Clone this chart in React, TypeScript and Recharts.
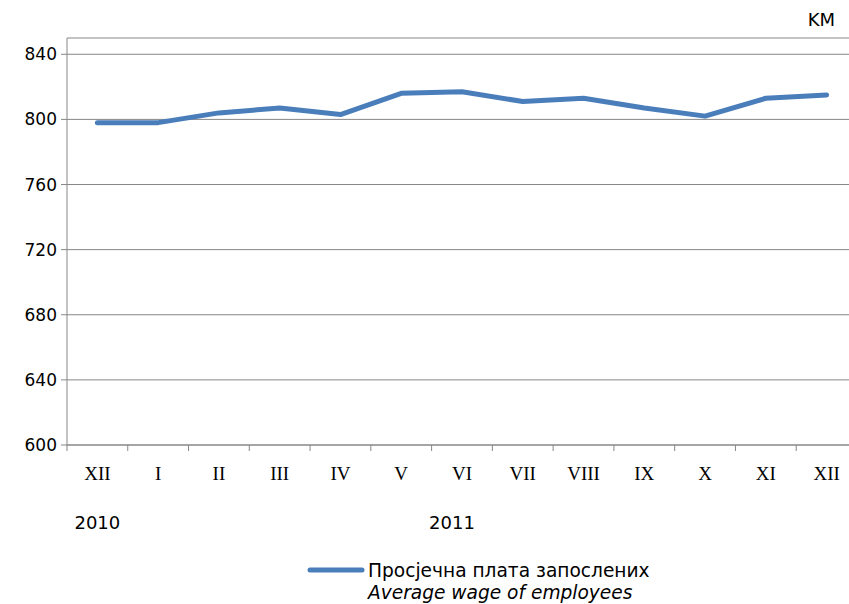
import { LineChart, Line, XAxis, YAxis, CartesianGrid } from "recharts"

const months = ["XII", "I", "II", "III", "IV", "V", "VI", "VII", "VIII", "IX", "X", "XI", "XII"]
const wages = [798, 798, 804, 807, 803, 816, 817, 811, 813, 807, 802, 813, 815]
const yearLabels: Record<number, string> = { 0: "2010", 6: "2011" }
const yTicks = [600, 640, 680, 720, 760, 800, 840]

const data = months.map((m, i) => ({ month: m, idx: i, wage: wages[i] }))

const SANS = "'DejaVu Sans', Verdana, sans-serif"
const GRID = "#878787"

function MonthTick(props: any) {
  const { x, y, payload, index } = props
  const half = 30.4
  const year = yearLabels[index]
  return (
    <g>
      <line x1={x - half} y1={y - 8} x2={x - half} y2={y - 2} stroke={GRID} />
      {index === months.length - 1 && <line x1={x + half} y1={y - 8} x2={x + half} y2={y - 2} stroke={GRID} />}
      <text x={x} y={y + 27} textAnchor="middle" fontSize={19} fontFamily="'Liberation Serif', serif" fill="#000">
        {months[payload.value]}
      </text>
      {year && (
        <text x={index === 6 ? x - 10 : x} y={y + 76} textAnchor="middle" fontSize={18} fontFamily={SANS} fill="#000">
          {year}
        </text>
      )}
    </g>
  )
}

export default function App() {
  return (
    <div style={{ position: "absolute", left: 0, top: 0, width: 849, height: 604, overflow: "hidden", background: "#fff" }}>
      <LineChart width={857} height={604} data={data} margin={{ top: 38, right: 0, bottom: 119, left: 7 }}>
        <CartesianGrid vertical={false} stroke={GRID} strokeWidth={1} />
        <XAxis
          dataKey="idx"
          type="category"
          scale="band"
          axisLine={{ stroke: GRID }}
          tickLine={false}
          tick={<MonthTick />}
          interval={0}
          height={40}
        />
        <YAxis
          domain={[600, 850]}
          ticks={yTicks}
          width={60}
          axisLine={{ stroke: GRID }}
          tickLine={{ stroke: GRID }}
          tickSize={6}
          tick={{ fontSize: 17, fontFamily: SANS, fill: "#000" }}
          tickMargin={4}
        />
        <Line
          type="linear"
          dataKey="wage"
          stroke="#4A7EBB"
          strokeWidth={5}
          strokeLinecap="round"
          strokeLinejoin="round"
          dot={false}
          isAnimationActive={false}
        />
        <text x={835} y={26} textAnchor="end" fontSize={18} fontFamily={SANS} fill="#000">
          KM
        </text>
        <line x1={310} y1={570} x2={362} y2={570} stroke="#4A7EBB" strokeWidth={5} strokeLinecap="round" />
        <text x={368} y={577} fontSize={18.6} fontFamily={SANS} fill="#000">
          Просјечна плата запослених
        </text>
        <text x={368} y={599} fontSize={18.6} fontFamily={SANS} fontStyle="italic" fill="#000">
          Average wage of employees
        </text>
      </LineChart>
    </div>
  )
}
